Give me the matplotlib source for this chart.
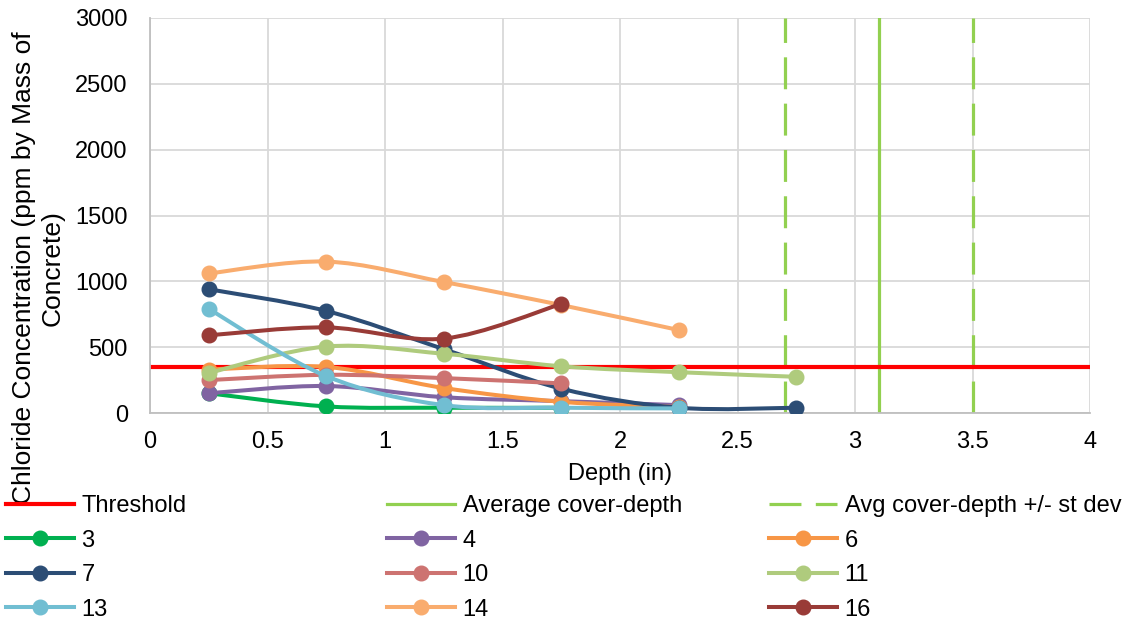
import matplotlib
matplotlib.use("Agg")
import matplotlib.pyplot as plt
from matplotlib.path import Path
from matplotlib.patches import PathPatch
from matplotlib.lines import Line2D

plt.rcParams['font.family'] = ['Liberation Sans', 'DejaVu Sans']

# sampling depths (in)
depth = [0.25, 0.75, 1.25, 1.75, 2.25, 2.75]

# chloride profiles per core (ppm by mass of concrete)
core_3 = [150, 50, 40, 40]
core_4 = [150, 205, 120, 90, 60]
core_6 = [330, 350, 190, 85, 45]
core_7 = [940, 775, 485, 185, 40, 40]
core_10 = [250, 290, 265, 225]
core_11 = [305, 505, 450, 355, 310, 275]
core_13 = [790, 280, 60, 40, 35]
core_14 = [1060, 1150, 995, 820, 630]
core_16 = [590, 650, 565, 828]

core_labels = ['3', '4', '6', '7', '10', '11', '13', '14', '16']
core_values = [core_3, core_4, core_6, core_7, core_10, core_11,
               core_13, core_14, core_16]
core_colors = ['#00B050', '#8064A2', '#F79646', '#2C4D75', '#CD7371',
               '#AFCB7D', '#71BED2', '#F9AC6E', '#993B37']

threshold = 350
avg_cover = 3.1
cover_sd = 0.4

FS = 17


def smooth_path(xs, ys):
    # Catmull-Rom style bezier, like Excel's smoothed lines
    n = len(xs)
    verts = [(xs[0], ys[0])]
    codes = [Path.MOVETO]
    for i in range(n - 1):
        xp, yp = (xs[i - 1], ys[i - 1]) if i > 0 else (xs[i], ys[i])
        xn, yn = (xs[i + 2], ys[i + 2]) if i + 2 < n else (xs[i + 1], ys[i + 1])
        c1 = (xs[i] + (xs[i + 1] - xp) / 6, ys[i] + (ys[i + 1] - yp) / 6)
        c2 = (xs[i + 1] - (xn - xs[i]) / 6, ys[i + 1] - (yn - ys[i]) / 6)
        verts += [c1, c2, (xs[i + 1], ys[i + 1])]
        codes += [Path.CURVE4] * 3
    return Path(verts, codes)


fig = plt.figure(figsize=(11.35, 6.27), dpi=100)
ax = fig.add_axes([150 / 1135, 1 - 413 / 627, 940 / 1135, 395 / 627])

cover_color = '#92D050'
ax.axvline(avg_cover, color=cover_color, lw=2.3, zorder=2)
for xc in (avg_cover - cover_sd, avg_cover + cover_sd):
    ax.axvline(xc, color=cover_color, lw=2.3, dashes=(10, 4.5), zorder=2)
ax.axhline(threshold, color='#FF0000', lw=3, zorder=2)

handles = []
for lab, vals, col in zip(core_labels, core_values, core_colors):
    xs = depth[:len(vals)]
    ax.add_patch(PathPatch(smooth_path(xs, vals), fill=False, edgecolor=col,
                           lw=2.9, capstyle='round', joinstyle='round', zorder=3))
    ax.plot(xs, vals, linestyle='none', marker='o', ms=10.5, color=col, zorder=3)
    handles.append(Line2D([], [], color=col, lw=2.9, marker='o', ms=10.5, label=lab))

ax.set_xlim(0, 4)
ax.set_ylim(0, 3000)
ax.set_xticks([0, 0.5, 1, 1.5, 2, 2.5, 3, 3.5, 4])
ax.set_xticklabels(['0', '0.5', '1', '1.5', '2', '2.5', '3', '3.5', '4'])
ax.set_yticks(range(0, 3001, 500))
ax.grid(True, color='#D9D9D9', lw=1.3, zorder=0)
ax.set_axisbelow(True)
for s in ('top', 'right'):
    ax.spines[s].set_visible(False)
for s in ('left', 'bottom'):
    ax.spines[s].set_color('#BFBFBF')
    ax.spines[s].set_linewidth(1.3)
ax.tick_params(length=0, labelsize=FS, colors='black')
ax.tick_params(axis='y', pad=16)
ax.tick_params(axis='x', pad=13)
ax.set_xlabel('Depth (in)', fontsize=FS, labelpad=7)

fig.text(0.034, 1 - 268 / 627, 'Chloride Concentration (ppm by Mass of\nConcrete)',
         rotation=90, ha='center', va='center', multialignment='center',
         fontsize=19, linespacing=1.25)

line_handles = [
    Line2D([], [], color='#FF0000', lw=3, label='Threshold'),
    Line2D([], [], color=cover_color, lw=2.3, label='Average cover-depth'),
    Line2D([], [], color=cover_color, lw=2.3, dashes=(10, 4.5),
           label='Avg cover-depth +/- st dev'),
]
columns = [
    [line_handles[0], handles[0], handles[3], handles[6]],
    [line_handles[1], handles[1], handles[4], handles[7]],
    [line_handles[2], handles[2], handles[5], handles[8]],
]
col_x = [6 / 1135, 387 / 1135, 769 / 1135]
for hs, x0 in zip(columns, col_x):
    fig.legend(handles=hs, loc='upper left', bbox_to_anchor=(x0, 1 - 495 / 627),
               frameon=False, fontsize=FS, borderpad=0, borderaxespad=0,
               handlelength=2.9, handletextpad=0.3, labelspacing=0.53)

fig.savefig('out.png', dpi=100)
